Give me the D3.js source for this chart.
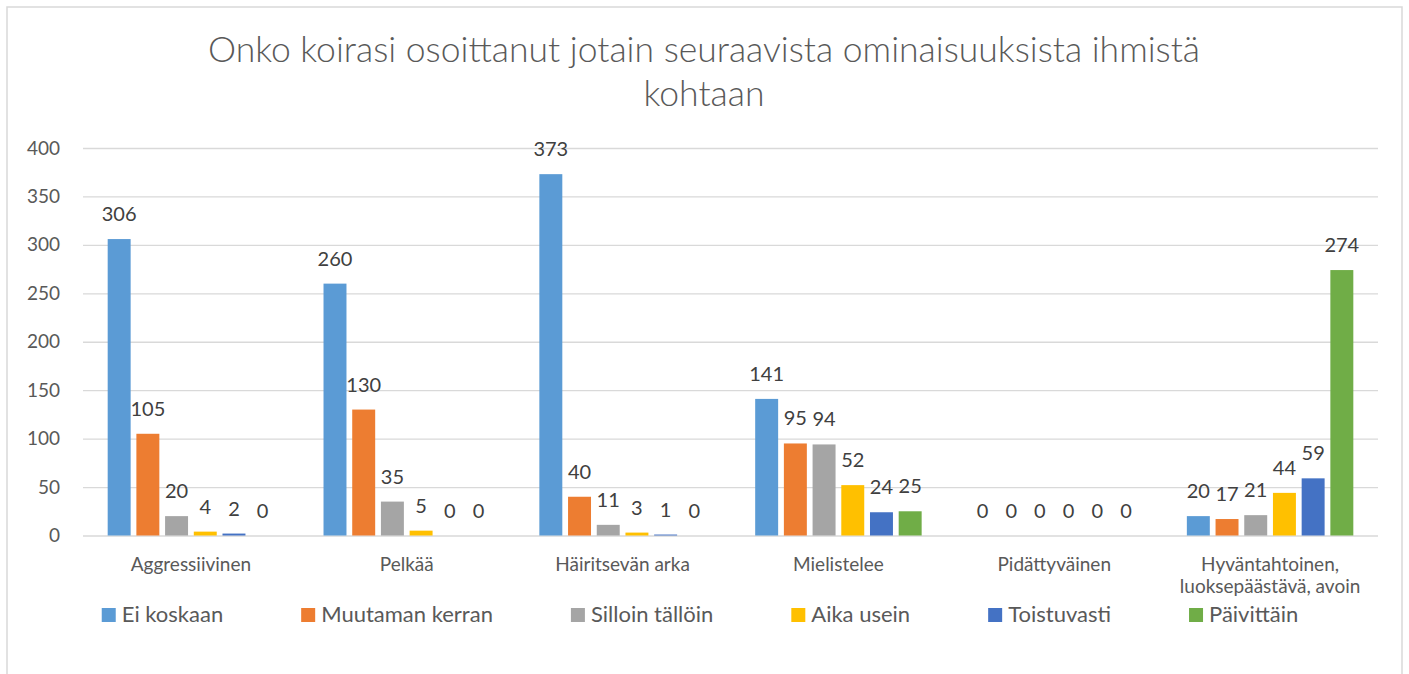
<!DOCTYPE html>
<html lang="fi">
	<head>
		<meta charset="utf-8">
		<title>Onko koirasi osoittanut jotain seuraavista ominaisuuksista ihmistä kohtaan</title>
		<script type="text/javascript" src="https://cdn.jsdelivr.net/npm/d3@7"></script>
		<style type="text/css">
			body { margin: 0; background: white; }
			text { font-family: Lato, "Open Sans", sans-serif; }
		</style>
	</head>
	<body>
		<script type="text/javascript">

			//Data
			let categories = ["Aggressiivinen", "Pelkää", "Häiritsevän arka", "Mielistelee", "Pidättyväinen", "Hyväntahtoinen, luoksepäästävä, avoin"];
			let series = ["Ei koskaan", "Muutaman kerran", "Silloin tällöin", "Aika usein", "Toistuvasti", "Päivittäin"];
			let eiKoskaan      = [306, 260, 373, 141, 0, 20];
			let muutamanKerran = [105, 130, 40, 95, 0, 17];
			let silloinTalloin = [20, 35, 11, 94, 0, 21];
			let aikaUsein      = [4, 5, 3, 52, 0, 44];
			let toistuvasti    = [2, 0, 1, 24, 0, 59];
			let paivittain     = [0, 0, 0, 25, 0, 274];
			let yTicks = [0, 50, 100, 150, 200, 250, 300, 350, 400];
			let colors = ["#5B9BD5", "#ED7D31", "#A5A5A5", "#FFC000", "#4472C4", "#70AD47"];

			let values = [eiKoskaan, muutamanKerran, silloinTalloin, aikaUsein, toistuvasti, paivittain];

			//Width and height
			let w = 1409;
			let h = 674;
			let plot = { left: 83, right: 1378, top: 148, bottom: 535.5 };

			let svg = d3.select("body")
						.append("svg")
						  .attr("width", w)
						  .attr("height", h);

			//Chart frame
			svg.append("rect")
				.attr("x", 7)
				.attr("y", 7)
				.attr("width", 1395)
				.attr("height", 720)
				.attr("fill", "white")
				.attr("stroke", "#d9d9d9")
				.attr("stroke-width", 1.5);

			//Title
			svg.append("text")
				.attr("text-anchor", "middle")
				.attr("fill", "#595959")
				.style("font-size", "35.5px")
				.style("font-weight", 300)
				.selectAll("tspan")
				.data(["Onko koirasi osoittanut jotain seuraavista ominaisuuksista ihmistä", "kohtaan"])
				.enter()
			  .append("tspan")
				.attr("x", 704)
				.attr("y", (d, i) => 62 + i * 44)
				.text(d => d);

			//Scales
			let x0 = d3.scaleBand()
						.domain(categories)
						.range([plot.left, plot.right]);

			let x1 = d3.scaleBand()
						.domain(series)
						.range([0, x0.bandwidth()])
						.paddingInner(0.2)
						.paddingOuter(0.86);

			let y = d3.scaleLinear()
						.domain([0, 400])
						.range([plot.bottom, plot.top]);

			//Gridlines and y labels
			let yAxis = d3.axisLeft(y)
						.tickValues(yTicks)
						.tickSize(-(plot.right - plot.left))
						.tickPadding(23);

			let gy = svg.append("g")
						.attr("transform", `translate(${plot.left},0)`)
						.call(yAxis);
			gy.select(".domain").remove();
			gy.selectAll(".tick line")
				.attr("stroke", "#d9d9d9")
				.attr("stroke-width", 1.3);
			gy.selectAll(".tick text")
				.attr("fill", "#595959")
				.style("font-size", "19px")
				.style("font-family", "Lato, sans-serif");

			//Bars
			let groups = svg.selectAll("g.cat")
						.data(categories)
						.enter()
					  .append("g")
						.attr("class", "cat")
						.attr("transform", d => `translate(${x0(d)},0)`);

			let cells = groups.selectAll("g.bar")
						.data((c, ci) => series.map((s, si) => ({ s: s, si: si, v: values[si][ci] })))
						.enter()
					  .append("g")
						.attr("class", "bar");

			cells.append("rect")
				.attr("x", d => x1(d.s))
				.attr("y", d => y(d.v))
				.attr("width", x1.bandwidth())
				.attr("height", d => y(0) - y(d.v))
				.attr("fill", d => colors[d.si]);

			//Data labels
			cells.append("text")
				.attr("x", d => x1(d.s) + x1.bandwidth() / 2)
				.attr("y", d => y(d.v) - 18)
				.attr("text-anchor", "middle")
				.attr("fill", "#404040")
				.style("font-size", "20px")
				.text(d => d.v);

			//Category labels, wrapped to the band width
			let catLabels = svg.selectAll("text.cat")
						.data(categories)
						.enter()
					  .append("text")
						.attr("class", "cat")
						.attr("text-anchor", "middle")
						.attr("fill", "#595959")
						.style("font-size", "19px");

			catLabels.each(function(d) {
				let t = d3.select(this);
				let cx = x0(d) + x0.bandwidth() / 2;
				let words = d.split(" ");
				let lines = [];
				let line = [];
				words.forEach(word => {
					line.push(word);
					t.text(line.join(" "));
					if (this.getComputedTextLength() > x0.bandwidth() - 10 && line.length > 1) {
						line.pop();
						lines.push(line.join(" "));
						line = [word];
					}
				});
				lines.push(line.join(" "));
				t.text(null);
				lines.forEach((l, i) => {
					t.append("tspan")
						.attr("x", cx)
						.attr("y", 571 + i * 22)
						.text(l);
				});
			});

			//Legend
			let legend = svg.append("g");
			let items = legend.selectAll("g")
						.data(series)
						.enter()
					  .append("g");

			items.append("rect")
				.attr("y", 608)
				.attr("width", 14)
				.attr("height", 14)
				.attr("fill", (d, i) => colors[i]);

			items.append("text")
				.attr("x", 20)
				.attr("y", 622)
				.attr("fill", "#595959")
				.style("font-size", "22px")
				.text(d => d);

			let pos = 0;
			items.each(function() {
				d3.select(this).attr("transform", `translate(${pos},0)`);
				pos += this.getBBox().width + 78;
			});
			let legendWidth = pos - 78;
			legend.attr("transform", `translate(${700 - legendWidth / 2},0)`);

		</script>
	</body>
</html>
